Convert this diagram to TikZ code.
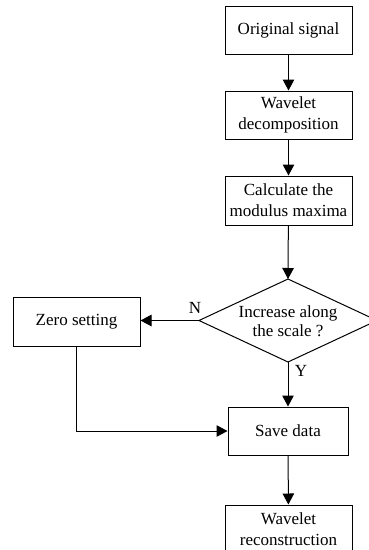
\documentclass[tikz,border=0pt]{standalone}
\usepackage{fontspec}
\setmainfont{Liberation Serif}
\usetikzlibrary{arrows.meta}
\begin{document}
\begin{tikzpicture}[x=1pt,y=-1pt,
  every node/.style={font=\fontsize{17}{21}\selectfont},
  procbox/.style={draw,line width=1pt,rectangle,align=center,inner sep=0pt,
    minimum width=127pt,minimum height=48pt},
  flow/.style={line width=1pt,-{Triangle[length=11pt,width=11.5pt]}},
  outline/.style={line width=1pt}]
\useasboundingbox (0,0) rectangle (369,550);
\clip (0,0) rectangle (369,550);
\node[procbox] (orig) at (288.5,30) {Original signal};
\node[procbox] (dec) at (288.5,115) {Wavelet\\decomposition};
\node[procbox,minimum height=49pt] (calc) at (288.5,200.5) {Calculate the\\modulus maxima};
% decision diamond: text node plus its four corners
\node[align=center,inner sep=0pt,font=\fontsize{17}{19}\selectfont] (dia) at (288,321) {Increase along\\the scale ?};
\coordinate (dtop) at (288,279);
\coordinate (dleft) at (199,320.5);
\coordinate (dbot) at (288,362);
\coordinate (dright) at (377,320.5);
\draw[outline] (dtop) -- (dright) -- (dbot) -- (dleft) -- cycle;
\node[procbox,minimum height=49pt] (zero) at (76.5,321.5) {Zero setting};
\node[procbox,minimum width=120pt] (save) at (288,431) {Save data};
\node[procbox,minimum height=49pt] (rec) at (288.5,529.5) {Wavelet\\reconstruction};
\node (nlab) at (195,308) {N};
\node (ylab) at (301,371) {Y};
\draw[flow] (orig) -- (dec);
\draw[flow] (dec) -- (calc);
\draw[flow] (calc) -- (dtop);
\draw[flow] (dleft) -- (dleft -| zero.east);
\draw[flow] (dbot) -- (save.north);
\draw[flow] (zero.south) |- (save.west);
\draw[flow] (save) -- (rec);
\end{tikzpicture}
\end{document}
